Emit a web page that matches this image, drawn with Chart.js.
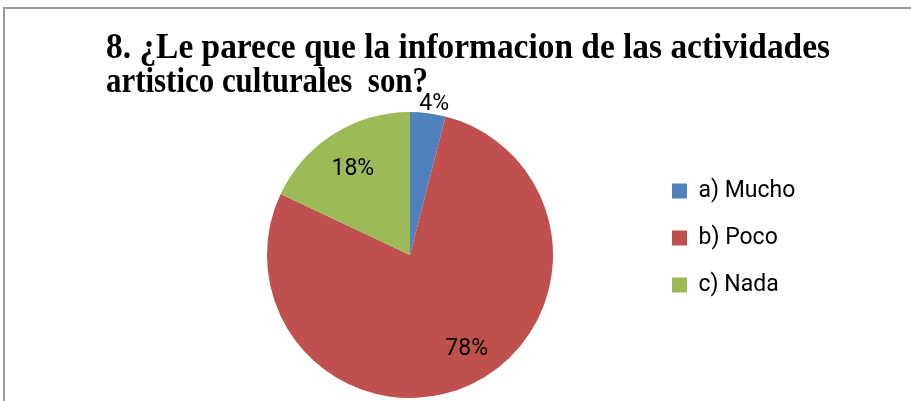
<!DOCTYPE html>
<html>
<head>
<meta charset="utf-8">
<script src="https://cdn.jsdelivr.net/npm/chart.js@4.4.1/dist/chart.umd.min.js"></script>
<style>
  body { margin: 0; background: #fff; }
  canvas { display: block; }
</style>
</head>
<body>
<canvas id="chart-pie" width="911" height="401"></canvas>
<script>
// data
const categories = ['a) Mucho', 'b) Poco', 'c) Nada'];
const percents = [4, 78, 18];
const sliceColors = ['#4F81BD', '#C0504D', '#9BBB59'];
const titleLines = [
    '8. ¿Le parece que la informacion de las actividades',
    'artistico culturales  son?'
];

// where each % label sits: fraction of the radius, plus a small pixel nudge
const labelRadius = [1.07, 0.75, 0.72];
const labelNudge = [[5, 1], [11, -3], [-2, 1]];

const labelFont = '23px Roboto';
const legendFontSize = 23;

// measure legend text so the pie lands where it should
const mctx = document.createElement('canvas').getContext('2d');
mctx.font = legendFontSize + 'px Roboto';
const widest = Math.max(...categories.map(c => mctx.measureText(c).width));
const legPad = 24, boxW = 15;
const legendWidth = legPad + boxW + legendFontSize / 2 + widest + 10;
const legendLeft = 672 - legPad;
const pieCx = 410;
const padRight = 911 - legendLeft - legendWidth;
const padLeft = 2 * pieCx - legendLeft;

const framePlugin = {
    id: 'frame',
    beforeDraw(chart) {
        const ctx = chart.ctx;
        ctx.save();
        ctx.strokeStyle = '#9a9a9a';
        ctx.lineWidth = 2;
        ctx.beginPath();
        ctx.moveTo(4, 401);
        ctx.lineTo(4, 8);
        ctx.lineTo(911, 8);
        ctx.stroke();
        ctx.restore();
    }
};

const titlePlugin = {
    id: 'bigTitle',
    afterDraw(chart) {
        const ctx = chart.ctx;
        const spots = [{ x: 106, y: 58, w: 724 }, { x: 106, y: 92, w: 322 }];
        ctx.save();
        ctx.font = 'bold 36px "Liberation Serif"';
        ctx.fillStyle = '#000';
        ctx.textBaseline = 'alphabetic';
        titleLines.forEach((line, i) => {
            const s = spots[i];
            const natural = ctx.measureText(line).width;
            ctx.save();
            ctx.translate(s.x, s.y);
            ctx.scale(s.w / natural, 1);
            ctx.fillText(line, 0, 0);
            ctx.restore();
        });
        ctx.restore();
    }
};

const pctLabels = {
    id: 'pctLabels',
    afterDatasetsDraw(chart) {
        const ctx = chart.ctx;
        const meta = chart.getDatasetMeta(0);
        ctx.save();
        ctx.font = labelFont;
        ctx.fillStyle = '#000';
        ctx.textAlign = 'center';
        ctx.textBaseline = 'middle';
        meta.data.forEach((arc, i) => {
            const p = arc.getProps(['x', 'y', 'startAngle', 'endAngle', 'outerRadius'], true);
            const mid = (p.startAngle + p.endAngle) / 2;
            const r = p.outerRadius * labelRadius[i];
            ctx.fillText(percents[i] + '%',
                p.x + Math.cos(mid) * r + labelNudge[i][0],
                p.y + Math.sin(mid) * r + labelNudge[i][1]);
        });
        ctx.restore();
    }
};

new Chart(document.getElementById('chart-pie').getContext('2d'), {
    type: 'pie',
    data: {
        labels: categories,
        datasets: [{ data: percents, backgroundColor: sliceColors, borderWidth: 0 }]
    },
    options: {
        responsive: false,
        animation: false,
        radius: 143,
        layout: { padding: { top: 112, bottom: 3, left: padLeft, right: padRight } },
        plugins: {
            tooltip: { enabled: false },
            legend: {
                position: 'right',
                align: 'start',
                title: { display: true, text: '', font: { size: 12, lineHeight: 1.2 }, padding: { top: 29, bottom: 0 } },
                labels: {
                    boxWidth: boxW, boxHeight: 15, padding: legPad,
                    color: '#000',
                    font: { family: 'Roboto', size: legendFontSize }
                }
            }
        }
    },
    plugins: [framePlugin, pctLabels, titlePlugin]
});
</script>
</body>
</html>
